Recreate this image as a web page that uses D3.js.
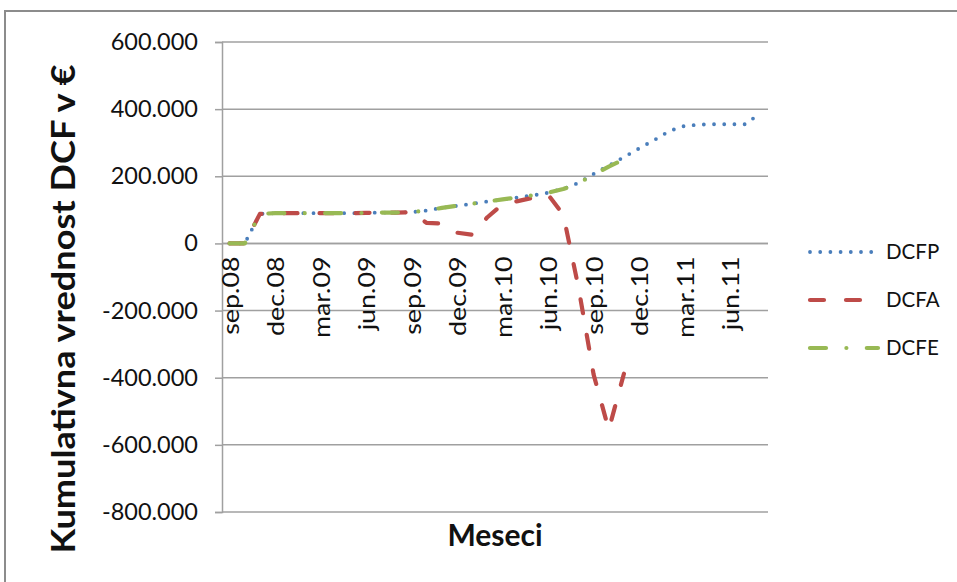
<!DOCTYPE html>
<html>
<head>
<meta charset="utf-8">
<script src="https://cdn.jsdelivr.net/npm/d3@7"></script>
<style>
  html, body { margin: 0; padding: 0; background: #fff; }
  svg { display: block; font-family: "Lato", "Open Sans", sans-serif; }
</style>
</head>
<body>
<svg id="chart" width="957" height="582"></svg>
<script>
// Months of the period (sep.08 – avg.11), Slovene abbreviations
const months = [
  "sep.08","okt.08","nov.08","dec.08",
  "jan.09","feb.09","mar.09","apr.09","maj.09","jun.09","jul.09","avg.09","sep.09","okt.09","nov.09","dec.09",
  "jan.10","feb.10","mar.10","apr.10","maj.10","jun.10","jul.10","avg.10","sep.10","okt.10","nov.10","dec.10",
  "jan.11","feb.11","mar.11","apr.11","maj.11","jun.11","jul.11","avg.11"
];

// Cumulative DCF values in €
const dcfp = [
  0, 0, 88000, 90000,
  90000, 90000, 90000, 90000, 90000, 91000, 92000, 92000, 93000, 98000, 106000, 112000,
  118000, 125000, 131000, 137000, 143000, 151000, 163000, 180000, 207000, 232000, 257000, 283000,
  308000, 335000, 350000, 354000, 355000, 355000, 355000, 388000
];
const dcfa = [
  0, 0, 88000, 90000,
  90000, 90000, 90000, 90000, 90000, 91000, 92000, 92000, 93000, 61000, 59000, 32000,
  26000, 78000, 117000, 126000, 136000, 145000, 86000, -130000, -390000, -555000, -388000, null,
  null, null, null, null, null, null, null, null
];
const dcfe = [
  0, 0, 88000, 90000,
  90000, 90000, 90000, 90000, 90000, 91000, 92000, 92000, 93000, 98000, 106000, 112000,
  118000, 125000, 131000, 137000, 143000, 151000, 162000, 179000, 205000, 229000, 250000, null,
  null, null, null, null, null, null, null, null
];

// Axis ticks and labels
const yTicks = [-800000, -600000, -400000, -200000, 0, 200000, 400000, 600000];
const xLabelStep = 3;
const seriesNames = ["DCFP", "DCFA", "DCFE"];
const yTitle = "Kumulativna vrednost DCF v €";
const xTitle = "Meseci";

const svg = d3.select("#chart");

// outer chart frame
svg.append("rect")
  .attr("x", 5).attr("y", 11).attr("width", 1000).attr("height", 1000)
  .attr("fill", "none").attr("stroke", "#8c8c8c").attr("stroke-width", 2);

const plot = { left: 222, right: 768, top: 42, bottom: 512 };

const x = d3.scaleBand().domain(months).range([plot.left, plot.right]);
const xc = m => x(m) + x.bandwidth() / 2;
const y = d3.scaleLinear().domain([-800000, 600000]).range([plot.bottom, plot.top]);

const locale = d3.formatLocale({ decimal: ",", thousands: ".", grouping: [3], currency: ["", "€"], minus: "-" });
const fmt = locale.format(",d");

// horizontal gridlines
svg.append("g").selectAll("line").data(yTicks).join("line")
  .attr("x1", plot.left).attr("x2", plot.right)
  .attr("y1", d => y(d)).attr("y2", d => y(d))
  .attr("stroke", "#a0a0a0").attr("stroke-width", 1.5);

// y axis
const yAxis = svg.append("g")
  .attr("transform", `translate(${plot.left},0)`)
  .call(d3.axisLeft(y).tickValues(yTicks).tickFormat(fmt).tickSize(7).tickPadding(17));
yAxis.select(".domain").attr("stroke", "#a0a0a0").attr("stroke-width", 1.5);
yAxis.selectAll(".tick line").attr("stroke", "#a0a0a0").attr("stroke-width", 1.5);
yAxis.selectAll(".tick text")
  .attr("font-family", "Lato, sans-serif").attr("font-size", 23.5).attr("fill", "#111");

// x axis line at zero with rotated month labels
svg.append("line")
  .attr("x1", plot.left).attr("x2", plot.right)
  .attr("y1", y(0)).attr("y2", y(0))
  .attr("stroke", "#a0a0a0").attr("stroke-width", 1.5);

svg.append("g").selectAll("text")
  .data(months.filter((m, i) => i % xLabelStep === 0))
  .join("text")
  .attr("transform", m => `translate(${xc(m) + 1},${y(0) + 13}) rotate(-90) scale(1.12,1)`)
  .attr("dy", "0.35em")
  .attr("text-anchor", "end")
  .attr("font-size", 24)
  .attr("fill", "#111")
  .text(m => m);

// series lines: round dots, long dashes, dash-dot
const styles = {
  DCFP: { color: "#4a7ebb", dash: "0 10.2", width: 3.8 },
  DCFA: { color: "#be4b48", dash: "14 22", width: 4.2 },
  DCFE: { color: "#98b954", dash: "16 20.4 0 20.4", width: 4.2 }
};
const seriesData = { DCFP: dcfp, DCFA: dcfa, DCFE: dcfe };

const line = d3.line()
  .defined(d => d.v !== null)
  .x(d => xc(d.m))
  .y(d => y(d.v));

seriesNames.forEach(name => {
  const pts = months.map((m, i) => ({ m, v: seriesData[name][i] }));
  const s = styles[name];
  svg.append("path")
    .datum(pts)
    .attr("d", line)
    .attr("fill", "none")
    .attr("stroke", s.color)
    .attr("stroke-width", s.width)
    .attr("stroke-dasharray", s.dash)
    .attr("stroke-linecap", "round")
    .attr("stroke-linejoin", "round");
});

// legend
const legendY = [252, 300, 348];
const lg = svg.append("g");
seriesNames.forEach((name, i) => {
  const s = styles[name];
  lg.append("line")
    .attr("x1", 810).attr("x2", 878)
    .attr("y1", legendY[i]).attr("y2", legendY[i])
    .attr("stroke", s.color).attr("stroke-width", s.width)
    .attr("stroke-dasharray", s.dash).attr("stroke-linecap", "round");
  lg.append("text")
    .attr("x", 886).attr("y", legendY[i]).attr("dy", "0.35em")
    .attr("font-size", 20.5).attr("fill", "#111")
    .text(name);
});

// axis titles
svg.append("text")
  .attr("x", (plot.left + plot.right) / 2).attr("y", 546)
  .attr("text-anchor", "middle")
  .attr("font-size", 30).attr("font-weight", "bold").attr("fill", "#111")
  .text(xTitle);

svg.append("text")
  .attr("transform", `translate(64,309) rotate(-90) scale(1.13,1)`)
  .attr("dy", "0.35em")
  .attr("text-anchor", "middle")
  .attr("font-size", 32).attr("font-weight", "bold").attr("fill", "#111")
  .text(yTitle);
</script>
</body>
</html>
